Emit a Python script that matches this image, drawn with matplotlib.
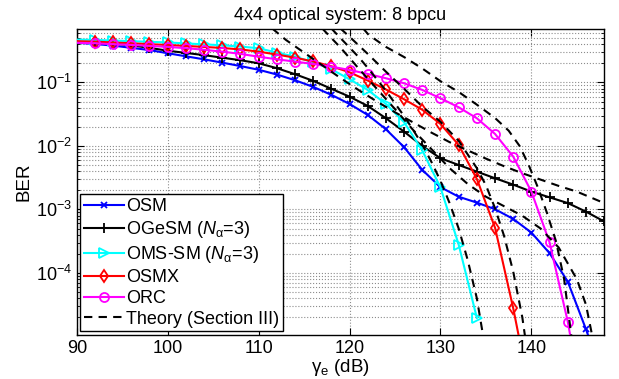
import numpy as np
import matplotlib
matplotlib.use("Agg")
import matplotlib.pyplot as plt
from matplotlib.ticker import LogLocator, NullFormatter

plt.rcParams['font.family'] = ['Liberation Sans', 'DejaVu Sans']
plt.rcParams['mathtext.fontset'] = 'custom'
plt.rcParams['mathtext.rm'] = 'Liberation Sans'
plt.rcParams['mathtext.it'] = 'Liberation Sans:italic'

# SNR axis of the simulated curves (dB)
snr = np.arange(90, 150, 2)

# log10(BER), one value per marker
osm_log = [-0.375, -0.394, -0.42, -0.455, -0.49, -0.54, -0.588, -0.636, -0.688, -0.742,
           -0.80, -0.875, -0.965, -1.07, -1.195, -1.339, -1.512, -1.737, -2.02, -2.378,
           -2.65, -2.80, -2.893, -2.997, -3.15, -3.365, -3.69, -4.137, -4.887, -5.7]
ogesm_log = [-0.36, -0.373, -0.39, -0.415, -0.455, -0.50, -0.535, -0.57, -0.61, -0.65,
             -0.698, -0.775, -0.87, -0.975, -1.10, -1.224, -1.37, -1.564, -1.775, -2.00,
             -2.194, -2.30, -2.405, -2.509, -2.61, -2.72, -2.81, -2.90, -3.035, -3.19]
omssm_log = [-0.325, -0.33, -0.34, -0.35, -0.36, -0.37, -0.385, -0.40, -0.415, -0.435,
             -0.461, -0.53, -0.594, -0.682, -0.792, -0.95, -1.118, -1.339, -1.627, -2.071,
             -2.654, -3.553, -4.709]
osmx_log = [-0.35, -0.357, -0.37, -0.383, -0.397, -0.41, -0.425, -0.44, -0.457, -0.48,
            -0.515, -0.56, -0.61, -0.67, -0.745, -0.84, -0.97, -1.11, -1.265, -1.43,
            -1.654, -1.984, -2.52, -3.288, -4.556, -6.0]
orc_log = [-0.375, -0.383, -0.398, -0.409, -0.425, -0.44, -0.46, -0.485, -0.515, -0.55,
           -0.595, -0.635, -0.672, -0.709, -0.751, -0.803, -0.866, -0.934, -1.013, -1.118,
           -1.249, -1.391, -1.564, -1.811, -2.168, -2.72, -3.52, -4.767, -6.4]

# theory curves (Section III)
th_ogesm_x = [111.5, 113, 115, 117, 119, 121, 123, 125, 127, 129, 131, 133, 135, 137, 139,
              141, 143, 145, 148]
th_ogesm_log = [-0.15, -0.33, -0.53, -0.73, -0.93, -1.12, -1.3, -1.47, -1.63, -1.79, -1.94,
                -2.07, -2.2, -2.32, -2.43, -2.53, -2.63, -2.72, -2.9]
th_osm_x = [117, 119, 121, 123, 125, 127, 129, 131, 133, 135, 137, 139, 141, 143, 145, 146, 146.7]
th_osm_log = [-0.15, -0.45, -0.78, -1.1, -1.42, -1.75, -2.05, -2.35, -2.6, -2.8, -2.95, -3.1,
              -3.3, -3.6, -4.1, -4.5, -5.0]
th_omssm_x = [118, 119, 120, 121, 122, 123, 124, 125, 126, 127, 128, 129, 130, 131, 132, 133,
              134, 134.7]
th_omssm_log = [-0.15, -0.3, -0.45, -0.6, -0.77, -0.95, -1.13, -1.33, -1.53, -1.75, -1.98,
                -2.25, -2.55, -2.9, -3.3, -3.8, -4.4, -5.0]
th_osmx_x = [119, 120, 122, 124, 126, 128, 130, 132, 134, 135, 136, 137, 138, 139, 139.3]
th_osmx_log = [-0.15, -0.28, -0.55, -0.83, -1.1, -1.38, -1.62, -1.92, -2.35, -2.62, -2.98,
               -3.42, -3.98, -4.7, -5.0]
th_orc_x = [121.5, 122.1, 124, 126, 128, 130, 132, 134, 136, 137.5, 138.7, 139.7, 140.7,
            141.7, 142.7, 143.6, 144.4]
th_orc_log = [-0.15, -0.25, -0.44, -0.6, -0.78, -0.98, -1.15, -1.35, -1.56, -1.76, -2.0,
              -2.3, -2.65, -3.05, -3.5, -4.1, -5.0]


def ber(values):
    return 10.0 ** np.asarray(values)


def plot_sim(ax, values, color, marker, label, ms=6):
    n = len(values)
    ax.semilogy(snr[:n], ber(values), color=color, marker=marker, lw=1.5, ms=ms,
                mew=1.3, mfc='none', markevery=slice(1, None), label=label, zorder=3)


fig = plt.figure(figsize=(6.19, 3.79), dpi=100)
ax = fig.add_axes([0.124, 0.116, 0.852, 0.808])

plot_sim(ax, osm_log, '#0000ff', 'x', 'OSM', ms=5)
plot_sim(ax, ogesm_log, 'black', '+', r'OGeSM ($N_{\mathrm{\alpha}}$=3)', ms=7)
plot_sim(ax, omssm_log, '#00ffff', '>', r'OMS-SM ($N_{\mathrm{\alpha}}$=3)', ms=6.5)
plot_sim(ax, osmx_log, '#ff0000', 'd', 'OSMX', ms=6.5)
plot_sim(ax, orc_log, '#ff00ff', 'o', 'ORC', ms=6.5)

# Theory lines, only the first one goes in the legend
theory = [(th_ogesm_x, th_ogesm_log), (th_osm_x, th_osm_log), (th_omssm_x, th_omssm_log),
          (th_osmx_x, th_osmx_log), (th_orc_x, th_orc_log)]
for i, (tx, ty) in enumerate(theory):
    ax.semilogy(tx, ber(ty), color='black', ls='--', dashes=(4, 3), lw=1.5, zorder=4,
                label='Theory (Section III)' if i == 0 else None)

ax.set_xlim(90, 148)
ax.set_ylim(1.05e-5, 10 ** -0.155)
ax.set_xticks([90, 100, 110, 120, 130, 140])
ax.set_yticks([1e-4, 1e-3, 1e-2, 1e-1])
ax.yaxis.set_minor_locator(LogLocator(base=10, subs=np.arange(2, 10), numticks=12))
ax.yaxis.set_minor_formatter(NullFormatter())

ax.grid(True, which='major', axis='x', ls=':', color='0.55', lw=0.8)
ax.grid(True, which='both', axis='y', ls=':', color='0.55', lw=0.8)
ax.tick_params(which='both', direction='in', top=True, right=True, labelsize=13)
ax.tick_params(which='major', length=5)
ax.tick_params(which='minor', length=2.5)
for s in ax.spines.values():
    s.set_linewidth(1.0)

ax.set_title('4x4 optical system: 8 bpcu', fontsize=13, pad=6)
ax.set_xlabel(r'$\mathrm{\gamma_e}$ (dB)', fontsize=13.5, labelpad=0)
ax.set_ylabel('BER', fontsize=13.5, labelpad=2)

leg = ax.legend(loc='lower left', fontsize=13, frameon=True, fancybox=False,
                edgecolor='black', framealpha=1, borderaxespad=0.2, borderpad=0.2,
                handlelength=2.2, handletextpad=0.15, labelspacing=0.22)
leg.get_frame().set_linewidth(1.0)

fig.savefig('out.png', dpi=100)
